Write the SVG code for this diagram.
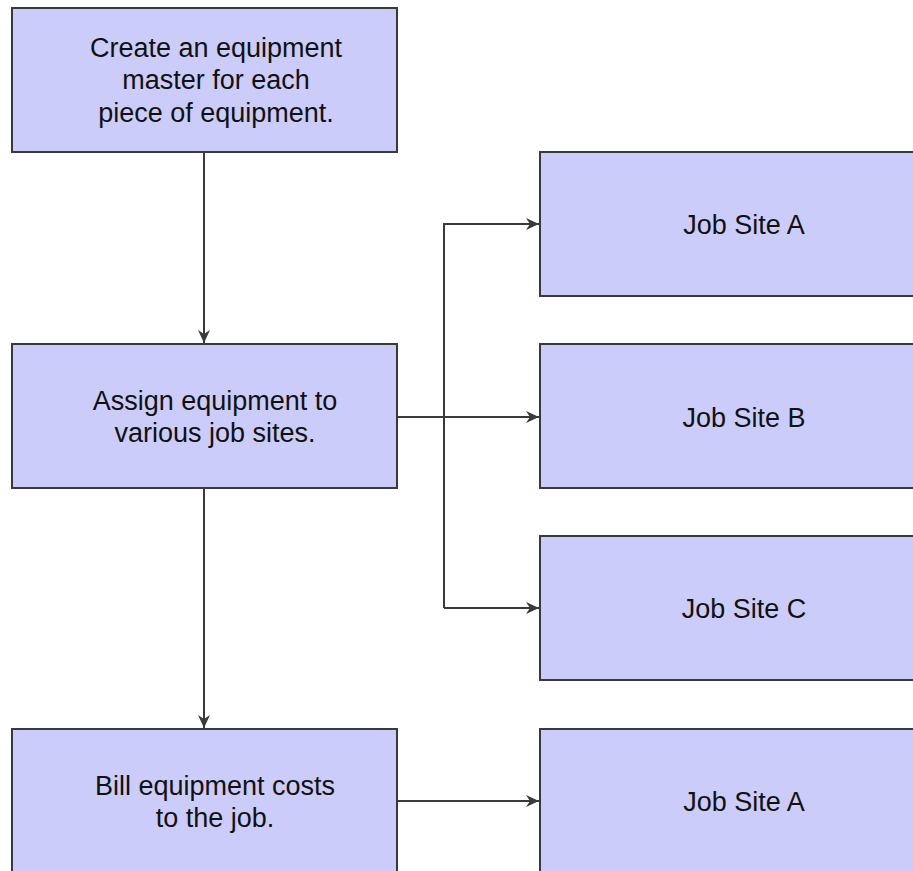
<svg xmlns="http://www.w3.org/2000/svg" width="913" height="871" viewBox="0 0 913 871">
<style>
.box{fill:#ccccfa;stroke:#3a3a3a;stroke-width:2}
.t{font-family:"Liberation Sans",Arial,sans-serif;font-size:27px;fill:#111111;text-anchor:middle}
.c{fill:none;stroke:#3a3a3a;stroke-width:2}
</style>
<defs>
<marker id="ah" viewBox="0 0 13 12" refX="13" refY="6" markerWidth="13" markerHeight="12" markerUnits="userSpaceOnUse" orient="auto">
<path d="M0,0 L13,6 L0,12 L4,6 Z" fill="#3a3a3a"/>
</marker>
</defs>
<rect width="913" height="871" fill="#ffffff"/>
<g id="connectors">
<path class="c" d="M204,152 V343" marker-end="url(#ah)"/>
<path class="c" d="M204,488 V728" marker-end="url(#ah)"/>
<path class="c" d="M397,417 H539" marker-end="url(#ah)"/>
<path class="c" d="M444,608 V224 H539" marker-end="url(#ah)"/>
<path class="c" d="M444,608 H539" marker-end="url(#ah)"/>
<path class="c" d="M397,801 H539" marker-end="url(#ah)"/>
</g>
<g id="create">
<rect class="box" x="12" y="8" width="385" height="144"/>
<text class="t" x="216" y="57">Create an equipment</text>
<text class="t" x="216" y="89">master for each</text>
<text class="t" x="216" y="122">piece of equipment.</text>
</g>
<g id="assign">
<rect class="box" x="12" y="344" width="385" height="144"/>
<text class="t" x="215" y="410">Assign equipment to</text>
<text class="t" x="215" y="442">various job sites.</text>
</g>
<g id="bill">
<rect class="box" x="12" y="729" width="385" height="143"/>
<text class="t" x="215" y="795">Bill equipment costs</text>
<text class="t" x="215" y="827">to the job.</text>
</g>
<g id="siteA">
<rect class="box" x="540" y="152" width="385" height="144"/>
<text class="t" x="744" y="234">Job Site A</text>
</g>
<g id="siteB">
<rect class="box" x="540" y="344" width="385" height="144"/>
<text class="t" x="744" y="427">Job Site B</text>
</g>
<g id="siteC">
<rect class="box" x="540" y="536" width="385" height="144"/>
<text class="t" x="744" y="618">Job Site C</text>
</g>
<g id="siteA2">
<rect class="box" x="540" y="729" width="385" height="143"/>
<text class="t" x="744" y="811">Job Site A</text>
</g>
</svg>
